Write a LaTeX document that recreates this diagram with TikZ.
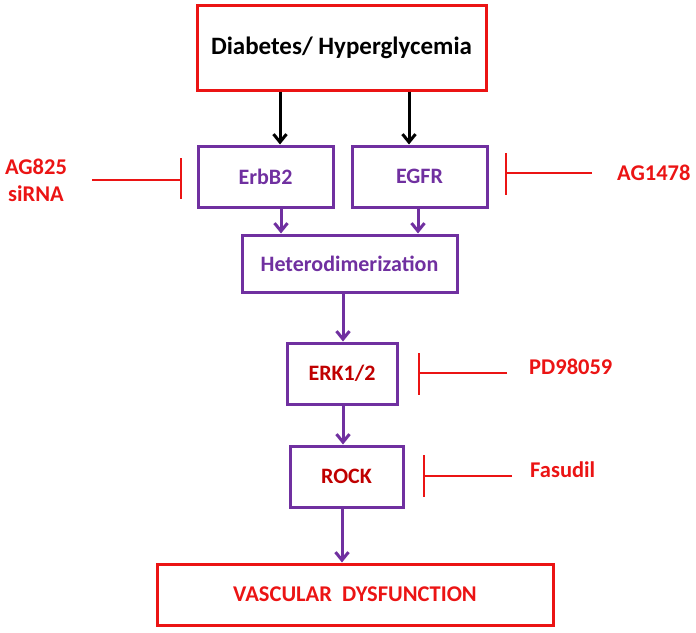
\documentclass[tikz,border=0pt]{standalone}
\usepackage{fontspec}
\setmainfont{Carlito}
\usetikzlibrary{arrows.meta}
\definecolor{pur}{RGB}{112,48,160}
\definecolor{rd}{RGB}{235,20,20}
\definecolor{drd}{RGB}{192,0,0}
\begin{document}
\begin{tikzpicture}[x=1pt,y=-1pt,
  redbox/.style={draw=rd,line width=3pt,inner sep=0pt,font=\bfseries},
  purbox/.style={draw=pur,line width=3pt,inner sep=0pt,font=\bfseries\fontsize{22}{26}\selectfont},
  blkarrow/.style={line width=3pt,-{Straight Barb[length=8pt,width=13pt,line width=3pt]}},
  purarrow/.style={draw=pur,line width=3pt,-{Straight Barb[length=8pt,width=13pt,line width=3pt]}},
  inhib/.style={draw=rd,line width=2.8pt},
  drug/.style={text=rd,font=\bfseries\fontsize{22.5}{27}\selectfont,align=center,inner sep=0pt}]
\useasboundingbox (0,0) rectangle (696,632);
% boxes
\node[redbox,minimum width=289pt,minimum height=85pt,font=\bfseries\fontsize{25}{30}\selectfont] (dia) at (341.5,47.5) {Diabetes/ Hyperglycemia};
\node[purbox,text=pur,minimum width=135pt,minimum height=61pt] (erb) at (265.5,176.5) {ErbB2};
\node[purbox,text=pur,minimum width=135pt,minimum height=61pt] (egf) at (419.5,176.5) {EGFR};
\node[purbox,text=pur,minimum width=215pt,minimum height=57pt] (het) at (349.5,263.5) {Heterodimerization};
\node[purbox,text=drd,minimum width=110pt,minimum height=61pt] (erk) at (342,373.5) {ERK1/2};
\node[purbox,text=drd,minimum width=113pt,minimum height=61pt] (rock) at (346.5,476.5) {ROCK};
\node[redbox,text=rd,minimum width=396pt,minimum height=61pt,font=\bfseries\fontsize{22.5}{27}\selectfont] (vd) at (355,594.5) {VASCULAR\ \ DYSFUNCTION};
% arrows
\draw[blkarrow] (dia.south -| 280,0) -- (erb.north -| 280,0);
\draw[blkarrow] (dia.south -| 409,0) -- (egf.north -| 409,0);
\draw[purarrow] (erb.south -| 281,0) -- (het.north -| 281,0);
\draw[purarrow] (egf.south -| 418,0) -- (het.north -| 418,0);
\draw[purarrow] (het.south -| 343,0) -- (erk.north -| 343,0);
\draw[purarrow] (erk.south -| 343,0) -- (rock.north -| 343,0);
\draw[purarrow] (rock.south -| 342,0) -- (vd.north -| 342,0);
% inhibitors
\node[drug] (ag825) at (36,180) {AG825\\siRNA};
\coordinate (i1a) at (92,180); \coordinate (i1b) at (181,180);
\draw[inhib] (i1a) -- (i1b);
\draw[inhib] (181,158) -- (181,199);
\node[drug,anchor=west] (ag1478) at (617,173) {AG1478};
\coordinate (i2a) at (592,173); \coordinate (i2b) at (506,173);
\draw[inhib] (i2a) -- (i2b);
\draw[inhib] (506,153) -- (506,195);
\node[drug,anchor=west] (pd) at (529,367) {PD98059};
\coordinate (i3a) at (507,373); \coordinate (i3b) at (419,373);
\draw[inhib] (i3a) -- (i3b);
\draw[inhib] (419,353) -- (419,395);
\node[drug,anchor=west] (fas) at (530,470) {Fasudil};
\coordinate (i4a) at (512,476); \coordinate (i4b) at (424,476);
\draw[inhib] (i4a) -- (i4b);
\draw[inhib] (424,455) -- (424,497);
\end{tikzpicture}
\end{document}
